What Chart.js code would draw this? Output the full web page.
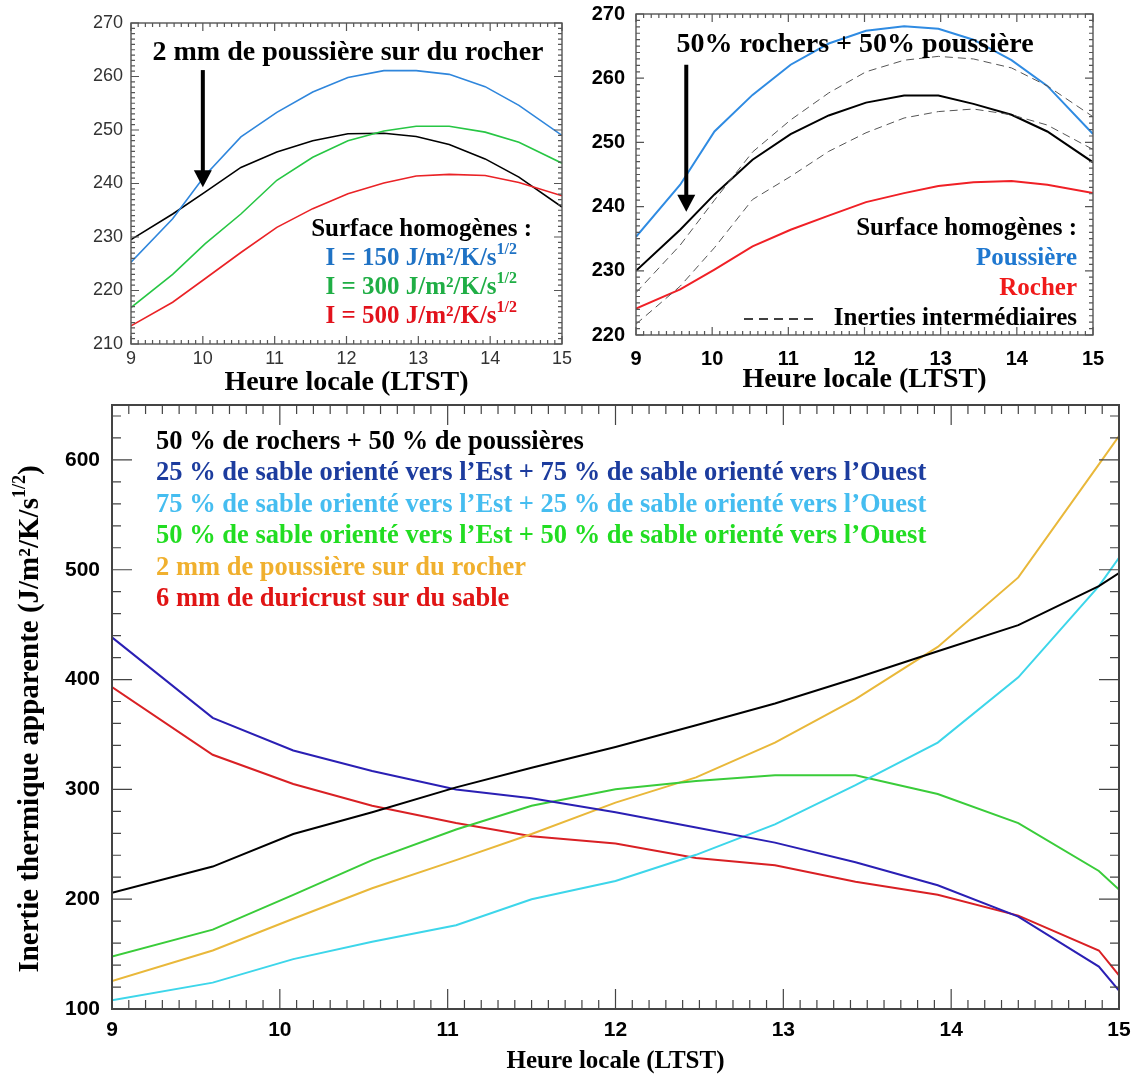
<!DOCTYPE html>
<html lang="fr">
<head>
<meta charset="utf-8">
<title>Inertie thermique apparente</title>
<script src="https://cdn.jsdelivr.net/npm/chart.js@4.4.1/dist/chart.umd.min.js"></script>
<style>
  html, body { margin: 0; padding: 0; background: #fff; }
  #page { position: relative; width: 1137px; height: 1079px; }
  canvas { position: absolute; }
</style>
</head>
<body>
<div id="page">
  <canvas id="grapheA" width="590" height="400" style="left:0;top:0"></canvas>
  <canvas id="grapheB" width="567" height="400" style="left:570px;top:0"></canvas>
  <canvas id="grapheC" width="1137" height="679" style="left:0;top:400px"></canvas>
</div>
<script>
// ---- données ----
const heuresHaut = [9, 9.58, 10.03, 10.53, 11.03, 11.53, 12.02, 12.52, 12.97, 13.43, 13.93, 14.4, 15];

// graphe A : 2 mm de poussière sur du rocher
const inerties = [150, 300, 500];
const tempI150 = [225.3, 233.4, 241.5, 248.7, 253.3, 257.1, 259.8, 261.1, 261.1, 260.4, 258.1, 254.6, 249.0];
const tempI300 = [216.8, 223.0, 228.7, 234.3, 240.6, 244.9, 248.0, 249.8, 250.7, 250.7, 249.6, 247.7, 243.8];
const tempI500 = [213.4, 217.8, 222.2, 227.1, 231.8, 235.3, 238.1, 240.1, 241.4, 241.7, 241.5, 240.2, 237.7];
const tempPoussRoche = [229.5, 234.3, 238.4, 243.0, 245.9, 248.0, 249.3, 249.4, 248.8, 247.3, 244.6, 241.2, 235.6];

// graphe B : 50% rochers + 50% poussière
const tempPoussiere = [235.3, 243.4, 251.7, 257.4, 262.1, 265.4, 267.4, 268.1, 267.7, 266.0, 262.8, 258.8, 251.3];
const tempMelange = [230.0, 236.4, 241.9, 247.3, 251.3, 254.2, 256.2, 257.3, 257.3, 256.0, 254.3, 251.7, 246.9];
const tempRocher = [224.1, 227.1, 230.2, 233.8, 236.4, 238.6, 240.7, 242.1, 243.2, 243.8, 244.0, 243.4, 242.1];
const tempInter1 = [226.6, 234.0, 241.0, 248.5, 253.5, 257.7, 261.0, 262.8, 263.4, 263.0, 261.6, 258.8, 254.0];
const tempInter2 = [221.7, 227.6, 233.6, 241.1, 244.7, 248.6, 251.5, 253.8, 254.8, 255.2, 254.3, 252.7, 248.9];

// graphe C : inertie apparente
const heuresBas = [9, 9.6, 10.08, 10.55, 11.05, 11.5, 12, 12.48, 12.95, 13.43, 13.92, 14.4, 14.88, 15];
const inRochPous = [205.9, 229.7, 259.4, 279.2, 301.8, 319.6, 338.6, 358.4, 378.2, 401.2, 425.7, 449.5, 485.1, 497.0];
const inEst25 = [438.4, 365.1, 335.4, 316.8, 299.8, 291.9, 279.2, 265.3, 251.5, 233.7, 212.7, 184.2, 138.6, 116.8];
const inEst75 = [108.0, 124.0, 145.4, 161.2, 176.2, 200.0, 216.6, 240.4, 268.1, 303.8, 342.6, 402.0, 485.1, 510.9];
const inEst50 = [147.7, 172.3, 203.9, 235.6, 263.4, 285.1, 300.2, 307.7, 312.9, 312.9, 295.8, 269.3, 225.7, 208.7];
const in2mmPous = [125.5, 153.3, 182.2, 209.9, 235.6, 259.4, 287.9, 310.9, 342.6, 382.2, 429.7, 493.0, 596.0, 621.7];
const in6mmDuri = [393.2, 331.5, 304.9, 285.1, 269.3, 257.4, 250.7, 237.6, 230.9, 215.8, 204.0, 185.0, 153.3, 130.7];

const libellesBas = [
  "50 % de rochers + 50 % de poussières",
  "25 % de sable orienté vers l\u2019Est + 75 % de sable orienté vers l\u2019Ouest",
  "75 % de sable orienté vers l\u2019Est + 25 % de sable orienté vers l\u2019Ouest",
  "50 % de sable orienté vers l\u2019Est + 50 % de sable orienté vers l\u2019Ouest",
  "2 mm de poussière sur du rocher",
  "6 mm de duricrust sur du sable"
];

const SERIF = '"Liberation Serif", "Times New Roman", serif';
const SANS = '"Liberation Sans", Arial, sans-serif';

// ---- petits outils de dessin ----
function serie(heures, valeurs, couleur, extra) {
  return Object.assign({
    data: heures.map((h, i) => ({ x: h, y: valeurs[i] })),
    borderColor: couleur, borderWidth: 1.6, pointRadius: 0, tension: 0, fill: false
  }, extra || {});
}

// morceaux : [[texte, exposant?], ...]
function ecrire(ctx, morceaux, x, y, align, taille, couleur) {
  const fN = 'bold ' + taille + 'px ' + SERIF;
  const fS = 'bold ' + Math.round(taille * 0.62) + 'px ' + SERIF;
  let larg = 0;
  morceaux.forEach(m => { ctx.font = m[1] ? fS : fN; larg += ctx.measureText(m[0]).width; });
  let cx = align === 'right' ? x - larg : align === 'center' ? x - larg / 2 : x;
  ctx.fillStyle = couleur;
  ctx.textAlign = 'left';
  ctx.textBaseline = 'middle';
  morceaux.forEach(m => {
    ctx.font = m[1] ? fS : fN;
    ctx.fillText(m[0], cx, m[1] ? y - taille * 0.36 : y);
    cx += ctx.measureText(m[0]).width;
  });
}

function fleche(chart, xv, yHaut, yBas) {
  const { ctx, scales: { x, y } } = chart;
  const px = x.getPixelForValue(xv), p1 = y.getPixelForValue(yHaut), p2 = y.getPixelForValue(yBas);
  ctx.save();
  ctx.strokeStyle = '#000'; ctx.fillStyle = '#000'; ctx.lineWidth = 4;
  ctx.beginPath(); ctx.moveTo(px, p1); ctx.lineTo(px, p2 - 12); ctx.stroke();
  ctx.beginPath(); ctx.moveTo(px - 9, p2 - 17); ctx.lineTo(px + 9, p2 - 17); ctx.lineTo(px, p2); ctx.closePath(); ctx.fill();
  ctx.restore();
}

// cadre fermé avec graduations vers l'intérieur, façon IDL
const cadreIDL = {
  id: 'cadreIDL',
  afterDatasetsDraw(chart, args, o) {
    const { ctx, chartArea: a, scales: { x, y } } = chart;
    ctx.save();
    ctx.strokeStyle = o.couleur;
    ctx.lineWidth = o.epais;
    ctx.strokeRect(a.left, a.top, a.right - a.left, a.bottom - a.top);
    ctx.lineWidth = 1.2;
    ctx.beginPath();
    const nx = Math.floor((x.max - x.min) / o.pasX + 1e-6);
    for (let i = 0; i <= nx; i++) {
      const px = x.getPixelForValue(x.min + i * o.pasX);
      const l = i % o.divX === 0 ? o.longMaj : o.longMin;
      ctx.moveTo(px, a.bottom); ctx.lineTo(px, a.bottom - l);
      ctx.moveTo(px, a.top); ctx.lineTo(px, a.top + l);
    }
    const ny = Math.floor((y.max - y.min) / o.pasY + 1e-6);
    for (let i = 0; i <= ny; i++) {
      const py = y.getPixelForValue(y.min + i * o.pasY);
      const l = i % o.divY === 0 ? o.longMaj : o.longMin;
      ctx.moveTo(a.left, py); ctx.lineTo(a.left + l, py);
      ctx.moveTo(a.right, py); ctx.lineTo(a.right - l, py);
    }
    ctx.stroke();
    ctx.restore();
  }
};
Chart.register(cadreIDL);

function echelles(o) {
  return {
    x: {
      type: 'linear', min: 9, max: 15,
      grid: { display: false, drawTicks: false }, border: { display: false },
      ticks: { stepSize: 1, autoSkip: false, padding: o.padX, color: o.couleurTick, font: o.policeTick },
      title: { display: true, text: 'Heure locale (LTST)', color: '#000', font: o.policeTitre, padding: { top: 0, bottom: o.padTitre } },
      afterFit: s => { s.height = o.hautX; s.paddingLeft = 0; s.paddingRight = 0; }
    },
    y: {
      min: o.yMin, max: o.yMax,
      grid: { display: false, drawTicks: false }, border: { display: false },
      ticks: { stepSize: o.pasY, includeBounds: false, padding: o.padY, color: o.couleurTick, font: o.policeTick },
      afterFit: s => { s.width = o.largY; s.paddingTop = 0; s.paddingBottom = 0; }
    }
  };
}

const base = { responsive: false, animation: false, events: [] };

// ---- graphe A ----
new Chart(document.getElementById('grapheA'), {
  type: 'line',
  data: { datasets: [
    serie(heuresHaut, tempI150, '#2f86dc'),
    serie(heuresHaut, tempI300, '#27c644'),
    serie(heuresHaut, tempI500, '#ea2226'),
    serie(heuresHaut, tempPoussRoche, '#000000')
  ] },
  options: Object.assign({}, base, {
    layout: { padding: { top: 23, right: 28, left: 0, bottom: 0 } },
    scales: echelles({ yMin: 210, yMax: 270, pasY: 10, padX: 4, padY: 8, hautX: 56, largY: 131, padTitre: 0,
      couleurTick: '#333', policeTick: { family: SANS, size: 18 },
      policeTitre: { family: SERIF, size: 28, weight: 'bold' } }),
    plugins: {
      legend: { display: false }, tooltip: { enabled: false },
      cadreIDL: { couleur: '#555', epais: 1.4, pasX: 0.1, divX: 10, pasY: 1, divY: 10, longMaj: 8, longMin: 4 }
    }
  }),
  plugins: [{
    id: 'textesA',
    afterDraw(chart) {
      const ctx = chart.ctx;
      fleche(chart, 10, 261.2, 239.3);
      ecrire(ctx, [['2 mm de poussière sur du rocher']], 348, 53, 'center', 28, '#000');
      ecrire(ctx, [['Surface homogènes :']], 532, 230, 'right', 25, '#000');
      const coul = ['#1f72c4', '#1fae45', '#e2121c'];
      inerties.forEach((v, i) => {
        ecrire(ctx, [['I = ' + v + ' J/m²/K/s'], ['1/2', true]], 517, 259 + i * 29, 'right', 25, coul[i]);
      });
    }
  }]
});

// ---- graphe B ----
new Chart(document.getElementById('grapheB'), {
  type: 'line',
  data: { datasets: [
    serie(heuresHaut, tempInter1, '#555', { borderWidth: 1, borderDash: [8, 5] }),
    serie(heuresHaut, tempInter2, '#555', { borderWidth: 1, borderDash: [8, 5] }),
    serie(heuresHaut, tempPoussiere, '#2f8be2', { borderWidth: 2 }),
    serie(heuresHaut, tempMelange, '#000000', { borderWidth: 2 }),
    serie(heuresHaut, tempRocher, '#f02026', { borderWidth: 2 })
  ] },
  options: Object.assign({}, base, {
    layout: { padding: { top: 14, right: 44, left: 0, bottom: 0 } },
    scales: echelles({ yMin: 220, yMax: 270, pasY: 10, padX: 12, padY: 11, hautX: 65, largY: 66, padTitre: 3,
      couleurTick: '#000', policeTick: { family: SANS, size: 20, weight: 'bold' },
      policeTitre: { family: SERIF, size: 28, weight: 'bold' } }),
    plugins: {
      legend: { display: false }, tooltip: { enabled: false },
      cadreIDL: { couleur: '#555', epais: 1.4, pasX: 0.1, divX: 10, pasY: 1, divY: 10, longMaj: 8, longMin: 4 }
    }
  }),
  plugins: [{
    id: 'textesB',
    afterDraw(chart) {
      const ctx = chart.ctx;
      fleche(chart, 9.66, 262.1, 239.2);
      ecrire(ctx, [['50% rochers + 50% poussière']], 285, 45, 'center', 28, '#000');
      ecrire(ctx, [['Surface homogènes :']], 507, 229, 'right', 25, '#000');
      ecrire(ctx, [['Poussière']], 507, 259, 'right', 25, '#1f78d0');
      ecrire(ctx, [['Rocher']], 507, 289, 'right', 25, '#f01a1a');
      ecrire(ctx, [['Inerties intermédiaires']], 507, 319, 'right', 25, '#000');
      ctx.save();
      ctx.strokeStyle = '#000'; ctx.lineWidth = 1.5; ctx.setLineDash([9, 6]);
      ctx.beginPath(); ctx.moveTo(174, 319); ctx.lineTo(247, 319); ctx.stroke();
      ctx.restore();
    }
  }]
});

// ---- graphe C ----
const couleursLignesBas = ['#000000', '#2a1fb4', '#3dd6ea', '#3acc3a', '#e9b83a', '#d92024'];
const couleursTexteBas = ['#000000', '#1c3c9e', '#45bdf0', '#22dd22', '#f0b02e', '#e01414'];
const seriesBas = [inRochPous, inEst25, inEst75, inEst50, in2mmPous, in6mmDuri];

new Chart(document.getElementById('grapheC'), {
  type: 'line',
  data: { datasets: seriesBas.map((v, i) => serie(heuresBas, v, couleursLignesBas[i], { borderWidth: 2 })) },
  options: Object.assign({}, base, {
    layout: { padding: { top: 5, right: 18, left: 0, bottom: 0 } },
    scales: echelles({ yMin: 100, yMax: 650, pasY: 100, padX: 9, padY: 12, hautX: 70, largY: 112, padTitre: 2,
      couleurTick: '#000', policeTick: { family: SANS, size: 21, weight: 'bold' },
      policeTitre: { family: SERIF, size: 25, weight: 'bold' } }),
    plugins: {
      legend: { display: false }, tooltip: { enabled: false },
      cadreIDL: { couleur: '#444', epais: 2, pasX: 0.1, divX: 10, pasY: 20, divY: 5, longMaj: 20, longMin: 9 }
    }
  }),
  plugins: [{
    id: 'textesC',
    afterDraw(chart) {
      const ctx = chart.ctx;
      libellesBas.forEach((t, i) => ecrire(ctx, [[t]], 156, 42 + i * 31.5, 'left', 26.5, couleursTexteBas[i]));
      ctx.save();
      ctx.translate(31, 319);
      ctx.rotate(-Math.PI / 2);
      ecrire(ctx, [['Inertie thermique apparente (J/m²/K/s'], ['1/2', true], [')']], 0, 0, 'center', 29, '#000');
      ctx.restore();
    }
  }]
});
</script>
</body>
</html>
